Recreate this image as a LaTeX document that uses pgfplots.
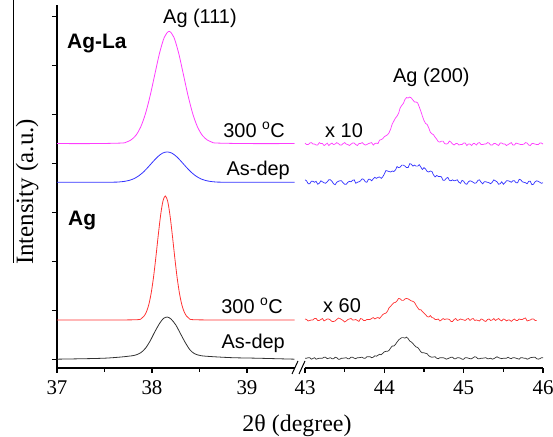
\documentclass[border=0pt]{standalone}
\usepackage{fontspec}
\setmainfont{Liberation Serif}
\newfontfamily\arial{Liberation Sans}
\usepackage{pgfplots}
\usepackage{pgfplotstable}
\pgfplotsset{compat=1.18}

\definecolor{cmag}{RGB}{255,60,255}
\definecolor{cblue}{RGB}{50,50,255}
\definecolor{cred}{RGB}{255,50,50}
\definecolor{cblk}{RGB}{50,50,50}

% right part: 2theta 43-46, Ag-La 300C, Ag-La as-dep, Ag 300C, Ag as-dep (offset units)
\pgfplotstableread{
x m b r k
43.00 4.41 3.66 0.82 0.02
43.02 4.38 3.64 0.81 0.02
43.04 4.38 3.58 0.78 0.03
43.06 4.41 3.58 0.79 0.03
43.08 4.42 3.63 0.80 0.00
43.10 4.39 3.63 0.80 0.015
43.12 4.39 3.61 0.83 0.03
43.14 4.37 3.63 0.83 0.00
43.16 4.37 3.57 0.79 0.01
43.18 4.42 3.59 0.79 0.02
43.20 4.40 3.64 0.81 0.02
43.22 4.40 3.62 0.83 0.02
43.24 4.36 3.60 0.78 0.04
43.26 4.38 3.59 0.80 0.04
43.28 4.41 3.62 0.82 0.01
43.30 4.36 3.66 0.82 0.02
43.32 4.39 3.66 0.80 0.03
43.34 4.41 3.63 0.77 0.01
43.36 4.38 3.58 0.77 0.01
43.38 4.39 3.56 0.78 0.04
43.40 4.42 3.61 0.81 0.03
43.42 4.40 3.63 0.84 0.00
43.44 4.37 3.64 0.83 0.00
43.46 4.37 3.64 0.81 0.02
43.48 4.40 3.60 0.79 0.02
43.50 4.42 3.57 0.76 0.025
43.52 4.39 3.57 0.78 0.03
43.54 4.38 3.61 0.81 0.01
43.56 4.36 3.63 0.82 0.01
43.58 4.39 3.62 0.83 0.04
43.60 4.41 3.65 0.80 0.04
43.62 4.41 3.66 0.80 0.02
43.64 4.38 3.59 0.81 0.01
43.66 4.36 3.61 0.79 0.03
43.68 4.40 3.62 0.77 0.03
43.70 4.40 3.64 0.83 0.035
43.72 4.42 3.68 0.82 0.04
43.74 4.39 3.67 0.79 0.02
43.76 4.37 3.62 0.79 0.02
43.78 4.38 3.61 0.81 0.05
43.80 4.40 3.67 0.81 0.05
43.82 4.41 3.67 0.81 0.05
43.84 4.42 3.64 0.83 0.03
43.86 4.37 3.68 0.85 0.04
43.88 4.40 3.71 0.82 0.07
43.90 4.41 3.69 0.84 0.06
43.92 4.40 3.71 0.85 0.08
43.94 4.47 3.72 0.83 0.10
43.96 4.48 3.69 0.87 0.09
43.98 4.50 3.72 0.91 0.12
44.00 4.54 3.78 0.93 0.15
44.02 4.56 3.85 0.94 0.16
44.04 4.58 3.84 0.98 0.16
44.06 4.62 3.83 1.05 0.18
44.08 4.70 3.82 1.08 0.23
44.10 4.80 3.84 1.12 0.27
44.12 4.86 3.83 1.15 0.27
44.14 4.92 3.86 1.16 0.30
44.16 4.96 3.93 1.19 0.35
44.18 5.02 3.91 1.24 0.39
44.20 5.13 3.92 1.23 0.42
44.22 5.18 3.96 1.20 0.44
44.24 5.22 3.96 1.20 0.44
44.26 5.30 3.94 1.23 0.43
44.28 5.34 3.91 1.24 0.45
44.30 5.33 3.91 1.23 0.42
44.32 5.35 3.99 1.21 0.37
44.34 5.33 3.98 1.19 0.35
44.36 5.29 3.94 1.18 0.32
44.38 5.25 3.96 1.16 0.28
44.40 5.25 3.94 1.10 0.25
44.42 5.23 3.94 1.05 0.24
44.44 5.15 3.97 1.01 0.20
44.46 5.06 3.92 1.01 0.15
44.48 4.96 3.87 0.97 0.13
44.50 4.87 3.91 0.94 0.13
44.52 4.81 3.88 0.91 0.12
44.54 4.79 3.83 0.87 0.11
44.56 4.72 3.82 0.86 0.07
44.58 4.63 3.84 0.89 0.05
44.60 4.60 3.83 0.85 0.04
44.62 4.58 3.76 0.84 0.045
44.64 4.53 3.72 0.81 0.05
44.66 4.49 3.75 0.81 0.02
44.68 4.44 3.73 0.82 0.01
44.70 4.43 3.73 0.78 0.03
44.72 4.45 3.72 0.80 0.03
44.74 4.45 3.65 0.83 0.03
44.76 4.40 3.65 0.81 0.02
44.78 4.39 3.69 0.82 0.00
44.80 4.40 3.71 0.82 0.01
44.82 4.45 3.65 0.81 0.025
44.84 4.43 3.64 0.77 0.04
44.86 4.39 3.66 0.77 0.04
44.88 4.37 3.64 0.81 0.01
44.90 4.40 3.65 0.83 0.01
44.92 4.40 3.66 0.79 0.03
44.94 4.37 3.61 0.80 0.03
44.96 4.38 3.59 0.82 0.02
44.98 4.38 3.65 0.81 0.00
45.00 4.41 3.63 0.80 0.00
45.02 4.41 3.58 0.79 0.03
45.04 4.36 3.57 0.82 0.03
45.06 4.39 3.62 0.83 0.02
45.08 4.39 3.64 0.79 0.01
45.10 4.36 3.63 0.82 0.01
45.12 4.40 3.61 0.83 0.03
45.14 4.40 3.59 0.79 0.05
45.16 4.37 3.60 0.80 0.04
45.18 4.41 3.65 0.79 0.01
45.20 4.42 3.66 0.78 0.01
45.22 4.38 3.61 0.82 0.02
45.24 4.38 3.58 0.81 0.02
45.26 4.39 3.62 0.78 0.025
45.28 4.39 3.62 0.77 0.03
45.30 4.42 3.61 0.81 0.01
45.32 4.41 3.60 0.82 0.01
45.34 4.37 3.58 0.79 0.02
45.36 4.37 3.61 0.80 0.00
45.38 4.40 3.66 0.83 0.01
45.40 4.40 3.64 0.79 0.03
45.42 4.38 3.62 0.81 0.05
45.44 4.36 3.57 0.83 0.03
45.46 4.41 3.58 0.80 0.02
45.48 4.41 3.62 0.78 0.01
45.50 4.39 3.57 0.82 0.02
45.52 4.39 3.60 0.81 0.02
45.54 4.36 3.64 0.78 0.02
45.56 4.38 3.64 0.80 0.04
45.58 4.40 3.63 0.80 0.02
45.60 4.42 3.61 0.77 0.01
45.62 4.37 3.64 0.80 0.03
45.64 4.37 3.64 0.82 0.03
45.66 4.41 3.60 0.79 0.02
45.68 4.40 3.60 0.79 0.01
45.70 4.39 3.67 0.82 0.00
45.72 4.38 3.66 0.81 0.03
45.74 4.38 3.62 0.81 0.03
45.76 4.39 3.61 0.83 0.02
45.78 4.42 3.60 0.84 0.02
45.80 4.41 3.58 0.78 0.00
45.82 4.37 3.63 0.79 0.01
45.84 4.36 3.63 0.80 0.03
45.86 4.40 3.56 0.82 0.035
45.88 4.40 3.57 0.82 0.04
45.90 4.39 3.62 0.79 0.04
45.92 4.38 3.64 0.79 0.01
45.94 4.38 3.63 nan 0.00
45.96 4.41 3.61 nan 0.01
45.98 4.41 3.59 nan 0.03
46.00 4.39 3.60 nan 0.03
}\rightdata

\begin{document}
\begin{tikzpicture}
\path[use as bounding box] (0,0) rectangle (553bp,437bp);

\pgfplotsset{
  xrdax/.style={
    scale only axis, height=362.6bp,
    ymin=-0.18, ymax=7.22,
    axis x line*=bottom,
    tick align=outside,
    major tick length=5bp, minor tick length=4bp,
    axis line style={line width=1.4bp},
    tick style={black, line width=1.1bp},
    /pgf/number format/assume math mode=true,
    xticklabel={\fontsize{21}{24}\selectfont\pgfmathprintnumber{\tick}},
    xticklabel shift=4bp,
    clip=false,
  },
  every axis plot/.append style={line width=0.8bp},
}

\begin{axis}[xrdax,
  at={(57bp,69bp)}, anchor=south west, width=237.5bp,
  xmin=37, xmax=39.5,
  axis y line*=left,
  xtick={37,38,39}, minor xtick={37.5,38.5},
  ytick={0,1,2,3,4,5,6,7}, yticklabels={},
]
% Ag-La 300 C
\addplot[cmag, smooth] coordinates {
(37.00,4.40) (37.40,4.40) (37.68,4.411) (37.73,4.430) (37.78,4.476) (37.83,4.567)
(37.88,4.734) (37.93,5.002) (37.98,5.373) (38.03,5.815) (38.08,6.250) (38.13,6.571)
(38.18,6.690) (38.23,6.571) (38.28,6.250) (38.33,5.815) (38.38,5.373) (38.43,5.002)
(38.48,4.734) (38.53,4.567) (38.58,4.476) (38.63,4.430) (38.68,4.411) (39.00,4.40) (39.50,4.40)
};
% Ag-La as-dep
\addplot[cblue, smooth] coordinates {
(37.00,3.61) (37.30,3.61) (37.61,3.613) (37.66,3.618) (37.71,3.629) (37.76,3.649)
(37.81,3.684) (37.86,3.741) (37.91,3.820) (37.96,3.921) (38.01,4.030) (38.06,4.131)
(38.11,4.204) (38.16,4.230) (38.21,4.204) (38.26,4.131) (38.31,4.030) (38.36,3.921)
(38.41,3.820) (38.46,3.741) (38.51,3.684) (38.56,3.649) (38.61,3.629) (38.66,3.618)
(38.71,3.613) (39.00,3.61) (39.50,3.61)
};
% Ag 300 C
\addplot[cred, smooth] coordinates {
(37.00,0.80) (37.50,0.80) (37.840,0.805) (37.890,0.833) (37.915,0.876) (37.940,0.959)
(37.965,1.104) (37.990,1.334) (38.015,1.658) (38.040,2.068) (38.065,2.515) (38.090,2.928)
(38.115,3.224) (38.140,3.330) (38.165,3.224) (38.190,2.928) (38.215,2.515) (38.240,2.068)
(38.265,1.658) (38.290,1.334) (38.315,1.104) (38.340,0.959) (38.365,0.876) (38.390,0.833)
(38.440,0.805) (38.80,0.80) (39.50,0.80)
};
% Ag as-dep
\addplot[cblk, smooth] coordinates {
(37.00,0.00) (37.30,0.01) (37.50,0.02) (37.65,0.04) (37.75,0.06) (37.82,0.08)
(37.88,0.13) (37.93,0.22) (37.98,0.37) (38.03,0.56) (38.08,0.73) (38.12,0.83)
(38.16,0.86) (38.20,0.82) (38.25,0.70) (38.30,0.52) (38.35,0.34) (38.40,0.19)
(38.45,0.11) (38.52,0.07) (38.65,0.05) (38.85,0.03) (39.10,0.02) (39.50,0.00)
};
\begin{scope}[font=\arial\fontsize{20}{24}\selectfont]
\node[anchor=base west, inner sep=0pt] at (axis cs:38.116,6.857) {Ag (111)};
\node[anchor=base west, inner sep=0pt, font=\arial\bfseries\fontsize{21}{24}\selectfont] at (axis cs:37.105,6.347) {Ag-La};
\node[anchor=base east, inner sep=0pt] at (axis cs:39.40,4.53) {300 \textsuperscript{o}C};
\node[anchor=base east, inner sep=0pt] at (axis cs:39.453,3.755) {As-dep};
\node[anchor=base west, inner sep=0pt, font=\arial\bfseries\fontsize{21}{24}\selectfont] at (axis cs:37.116,2.735) {Ag};
\node[anchor=base east, inner sep=0pt] at (axis cs:39.379,0.939) {300 \textsuperscript{o}C};
\node[anchor=base east, inner sep=0pt] at (axis cs:39.40,0.224) {As-dep};
\end{scope}
\end{axis}

\begin{axis}[xrdax,
  at={(305bp,69bp)}, anchor=south west, width=238bp,
  xmin=43, xmax=46,
  axis y line=none,
  xtick={43,44,45,46}, minor xtick={43.5,44.5,45.5},
  every axis plot/.append style={line width=0.7bp},
]
\addplot[cmag] table[x=x, y=m] {\rightdata};
\addplot[cblue] table[x=x, y=b] {\rightdata};
\addplot[cred] table[x=x, y=r] {\rightdata};
\addplot[cblk] table[x=x, y=k] {\rightdata};
\begin{scope}[font=\arial\fontsize{20}{24}\selectfont]
\node[anchor=base west, inner sep=0pt] at (axis cs:43.252,4.53) {x 10};
\node[anchor=base west, inner sep=0pt] at (axis cs:43.227,0.959) {x 60};
\node[anchor=base west, inner sep=0pt] at (axis cs:44.109,5.653) {Ag (200)};
\end{scope}
\end{axis}

% axis break marks
\draw[line width=1bp] (292bp,63bp) -- (298bp,76bp);
\draw[line width=1bp] (299bp,63bp) -- (305bp,76bp);

% axis titles
\node[anchor=base, inner sep=0pt, font=\fontsize{24}{28}\selectfont] at (297bp,6bp) {2θ (degree)};
\node[anchor=base, inner sep=0pt, rotate=90, font=\fontsize{25}{28}\selectfont] at (33bp,245bp) {Intensity (a.u.)};
\draw[line width=0.8bp] (13bp,437bp) -- (13bp,174bp);
\end{tikzpicture}
\end{document}
